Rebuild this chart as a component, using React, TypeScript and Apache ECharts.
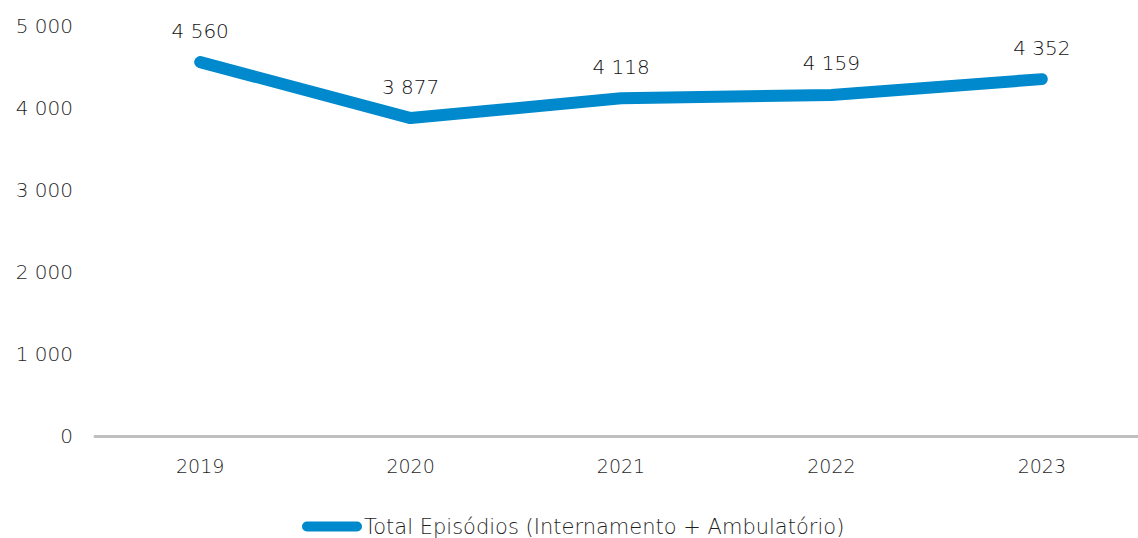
import React, { useEffect, useRef } from "react";
import * as echarts from "echarts";

const categories = ["2019", "2020", "2021", "2022", "2023"];
const totalEpisodios = [4560, 3877, 4118, 4159, 4352];
const seriesName = "Total Episódios (Internamento + Ambulatório)";

const fmt = (v: number) => String(v).replace(/\B(?=(\d{3})+(?!\d))/g, " ");

export default function App() {
  const ref = useRef<HTMLDivElement>(null);
  useEffect(() => {
    if (!ref.current) return;
    const chart = echarts.init(ref.current, undefined, { renderer: "svg" });
    const font = "'DejaVu Sans', 'Open Sans', sans-serif";
    chart.setOption({
      animation: false,
      textStyle: { fontFamily: font },
      grid: { left: 95, width: 1052, top: 26, bottom: 102, containLabel: false, outerBoundsMode: "none" },
      legend: {
        top: 511,
        left: 297,
        itemWidth: 60,
        itemHeight: 10,
        icon: "path://M5,0 H55 A5,5 0 0 1 55,10 H5 A5,5 0 0 1 5,0 Z",
        textStyle: { fontFamily: font, fontSize: 21, fontWeight: 200, color: "#1f1f1f", padding: [0, 0, 0, -3] },
        data: [{ name: seriesName, itemStyle: { color: "#0089CC" } }],
      },
      xAxis: {
        type: "category",
        data: categories,
        boundaryGap: true,
        axisLine: { lineStyle: { color: "#BFBFBF", width: 3 } },
        axisTick: { show: false },
        axisLabel: { color: "#1f1f1f", fontSize: 19, fontWeight: 200, margin: 20, fontFamily: font },
      },
      yAxis: {
        type: "value",
        min: 0,
        max: 5000,
        interval: 1000,
        splitLine: { show: false },
        axisLine: { show: false },
        axisTick: { show: false },
        axisLabel: { color: "#1f1f1f", fontSize: 20, fontWeight: 200, margin: 22, fontFamily: font, formatter: (v: number) => fmt(v) },
      },
      series: [
        {
          name: seriesName,
          type: "line",
          data: totalEpisodios,
          symbol: "circle",
          symbolSize: 1,
          showSymbol: true,
          itemStyle: { color: "#0089CC" },
          lineStyle: { color: "#0089CC", width: 12, cap: "round", join: "round" },
          label: {
            show: true,
            position: "top",
            distance: 21,
            color: "#111111",
            fontSize: 20,
            fontWeight: 200,
            fontFamily: font,
            formatter: (p: any) => fmt(p.value),
          },
        },
      ],
    });
    return () => chart.dispose();
  }, []);
  return <div ref={ref} style={{ position: "fixed", left: 0, top: 0, width: 1138, height: 538, background: "#fff" }} />;
}
